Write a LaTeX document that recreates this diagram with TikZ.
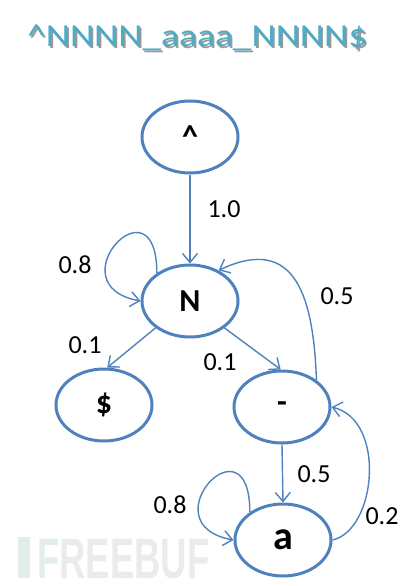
\documentclass[tikz,border=0pt]{standalone}
\usepackage{fontspec}
\setmainfont{Carlito}
\newfontfamily\titlefont{Carlito}
\newfontfamily\wmfont{Liberation Sans}
\usetikzlibrary{shapes.geometric,arrows.meta}
\definecolor{stateblue}{HTML}{4F81BD}
\definecolor{titleteal}{HTML}{4BACC6}
\definecolor{titleshade}{HTML}{9A9A9A}
\definecolor{wmgray}{HTML}{EBEBEB}
\definecolor{wmgreen}{HTML}{E2EFE8}
\newcommand{\titletext}{\^{}NNNN\_aaaa\_NNNN\$}
\tikzset{
  state/.style={ellipse, draw=stateblue, line width=3pt, minimum width=96pt, minimum height=72pt, inner sep=0pt, font=\fontsize{32}{32}\selectfont\bfseries},
  trans/.style={draw=stateblue, line width=1.4pt, -{Straight Barb[length=9pt,width=15pt,line width=1.4pt]}},
  prob/.style={font=\fontsize{26}{26}\selectfont, inner sep=0pt, text=black}
}
\begin{document}
\begin{tikzpicture}[x=1pt,y=-1pt]
\useasboundingbox (0,0) rectangle (420,586);
% watermark
\fill[wmgreen] (18,537) rectangle (30,578);
\node[anchor=base west, inner sep=0pt, font=\wmfont\fontsize{57}{57}\selectfont\bfseries] (wm) at (37,578) {\scalebox{0.64}[1]{\textcolor{wmgreen}{F}\textcolor{wmgray}{REEBUF}}};
% title with its shadow
\node[anchor=base west, inner sep=0pt, font=\titlefont\fontsize{32}{32}\selectfont] (title) at (27,47) {\scalebox{1.17}[1]{\rlap{\hspace{1.5pt}\raisebox{-1.8pt}{\textcolor{titleshade}{\titletext}}}\textcolor{titleteal}{\titletext}}};
% states
\node[state] (top) at (190,137) {\^{}};
\node[state] (N) at (190,301) {N};
\node[state] (dol) at (104,405) {\$};
\node[state] (dash) at (282,407) {-};
\node[state, font=\fontsize{40}{40}\selectfont\bfseries] (a) at (283,540) {a};
% transitions
\draw[trans] (top.south) -- (N.north);
\draw[trans] (N.140) .. controls +(0,-99) and +(-87,-16) .. (N.180);
\draw[trans] (N.218) -- (dol.85);
\draw[trans] (N.322) -- (dash.92);
\draw[trans] (dash.38) .. controls +(-3,-81) and +(78,-37) .. (N.47);
\draw[trans] (dash.south) -- (a.north);
\draw[trans] (a.140) .. controls +(0,-99) and +(-87,-16) .. (a.180);
\draw[trans] (a.0) .. controls +(44,-10) and +(55,13) .. (dash.0);
% labels
\node[prob] (l1) at (224,209) {1.0};
\node[prob] (l2) at (75,265) {0.8};
\node[prob] (l3) at (337,296) {0.5};
\node[prob] (l4) at (85,345) {0.1};
\node[prob] (l5) at (220,362) {0.1};
\node[prob] (l6) at (314,474) {0.5};
\node[prob] (l7) at (170,505) {0.8};
\node[prob] (l8) at (382,516) {0.2};
\end{tikzpicture}
\end{document}
